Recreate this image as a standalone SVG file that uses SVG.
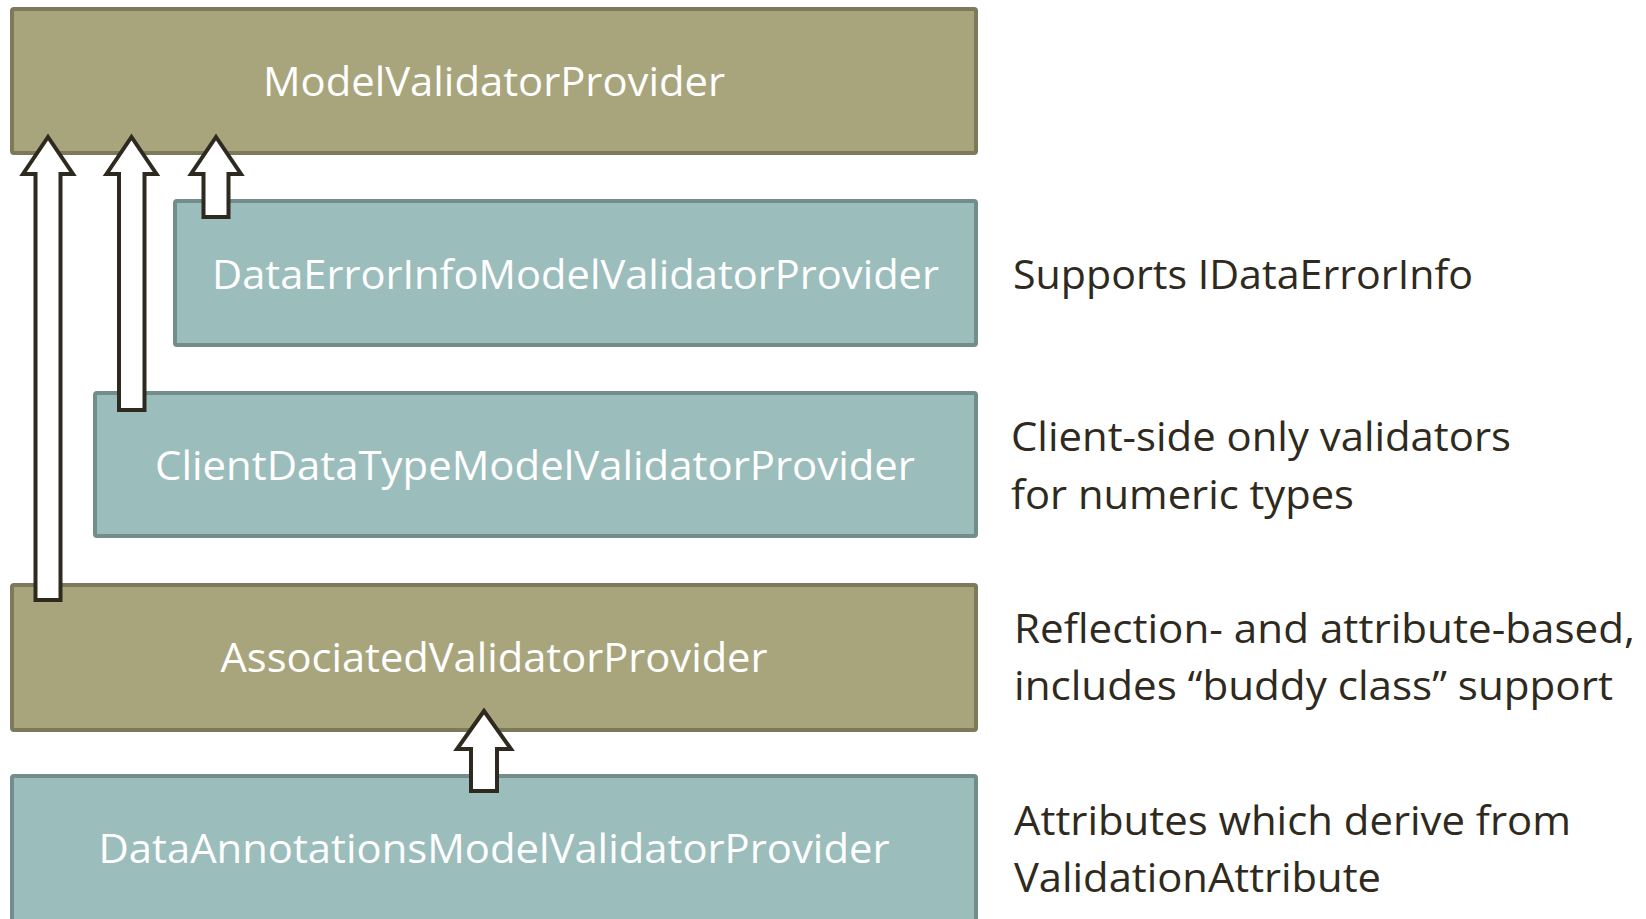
<svg xmlns="http://www.w3.org/2000/svg" width="1646" height="919" viewBox="0 0 1646 919">
<style>
.olive{fill:#a8a57c;stroke:#7c7a5a;stroke-width:4}
.teal{fill:#9bbdbb;stroke:#738d8b;stroke-width:4}
.lbl{font-family:"Open Sans","Noto Sans",sans-serif;font-size:41px;fill:#ffffff;text-anchor:middle}
.note{font-family:"Open Sans","Noto Sans",sans-serif;font-size:41px;fill:#2f2a20}
.arrow{fill:#ffffff;stroke:#2f2a20;stroke-width:4;stroke-linejoin:miter}
</style>
<rect width="1646" height="919" fill="#ffffff"/>
<g id="node-model">
<rect class="olive" x="12" y="9" width="964" height="144" rx="2"/>
<text class="lbl" x="494" y="96" textLength="462" lengthAdjust="spacingAndGlyphs">ModelValidatorProvider</text>
</g>
<g id="node-dataerror">
<rect class="teal" x="175" y="201" width="801" height="144" rx="2"/>
<text class="lbl" x="575.5" y="289" textLength="727" lengthAdjust="spacingAndGlyphs">DataErrorInfoModelValidatorProvider</text>
</g>
<g id="node-client">
<rect class="teal" x="95" y="393" width="881" height="143" rx="2"/>
<text class="lbl" x="535" y="480" textLength="760" lengthAdjust="spacingAndGlyphs">ClientDataTypeModelValidatorProvider</text>
</g>
<g id="node-associated">
<rect class="olive" x="12" y="585" width="964" height="145" rx="2"/>
<text class="lbl" x="494" y="672" textLength="547" lengthAdjust="spacingAndGlyphs">AssociatedValidatorProvider</text>
</g>
<g id="node-annotations">
<rect class="teal" x="12" y="776" width="964" height="200" rx="2"/>
<text class="lbl" x="494" y="863" textLength="791" lengthAdjust="spacingAndGlyphs">DataAnnotationsModelValidatorProvider</text>
</g>
<g id="notes">
<text class="note" x="1013" y="289" textLength="460" lengthAdjust="spacingAndGlyphs">Supports IDataErrorInfo</text>
<text class="note" x="1011" y="451" textLength="500" lengthAdjust="spacingAndGlyphs">Client-side only validators</text>
<text class="note" x="1011" y="509" textLength="343" lengthAdjust="spacingAndGlyphs">for numeric types</text>
<text class="note" x="1014" y="643" textLength="621" lengthAdjust="spacingAndGlyphs">Reflection- and attribute-based,</text>
<text class="note" x="1014" y="700" textLength="599" lengthAdjust="spacingAndGlyphs">includes “buddy class” support</text>
<text class="note" x="1014" y="835" textLength="557" lengthAdjust="spacingAndGlyphs">Attributes which derive from</text>
<text class="note" x="1014" y="892" textLength="367" lengthAdjust="spacingAndGlyphs">ValidationAttribute</text>
</g>
<g id="connectors">
<polygon class="arrow" points="48,137 73,174 60.5,174 60.5,600 35.5,600 35.5,174 23,174"/>
<polygon class="arrow" points="131.5,137 156.5,174 144.5,174 144.5,410 119,410 119,174 106.5,174"/>
<polygon class="arrow" points="216,137 241,174 228.5,174 228.5,217 203.5,217 203.5,174 191,174"/>
<polygon class="arrow" points="484,711 511,749 497,749 497,791 471,791 471,749 457,749"/>
</g>
</svg>
